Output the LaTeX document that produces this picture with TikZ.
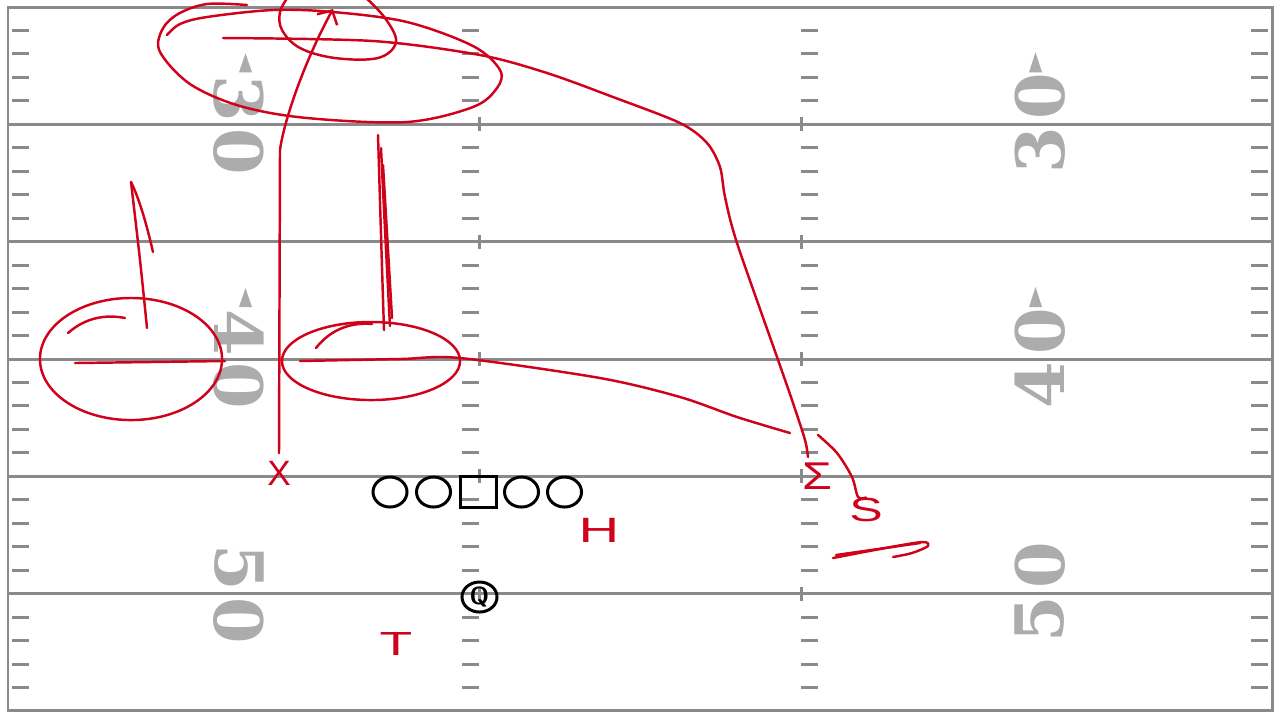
\documentclass[tikz,border=0pt]{standalone}
\usepackage{fontspec}
\usetikzlibrary{arrows.meta}
\usetikzlibrary{shapes.geometric}
\newfontfamily\numfont{DejaVu Serif}
\newfontfamily\handfont{Liberation Sans}
\definecolor{fieldgray}{RGB}{138,138,138}
\definecolor{numgray}{RGB}{172,172,172}
\definecolor{ink}{RGB}{208,2,27}

\begin{document}
\begin{tikzpicture}[x=0.01cm,y=-0.01cm,
    yardline/.style={draw=fieldgray,line width=0.85pt},
    hashtick/.style={draw=fieldgray,line width=0.85pt},
    yardnum/.style={text=numgray,inner sep=0pt,font=\numfont\bfseries\fontsize{19}{19}\selectfont},
    lineman/.style={draw=black,line width=0.85pt,ellipse,inner sep=0pt,minimum width=0.34cm,minimum height=0.30cm},
    center/.style={draw=black,line width=0.85pt,rectangle,inner sep=0pt,minimum width=0.36cm,minimum height=0.31cm},
    qback/.style={lineman,minimum width=0.35cm,font=\sffamily\bfseries\fontsize{7}{7}\selectfont},
    route/.style={draw=ink,line width=0.7pt,line cap=round,line join=round},
    hand/.style={text=ink,inner sep=0pt}]
    \fill[white] (0,0) rectangle (1280,720);
    \useasboundingbox (0,0) rectangle (1280,720);
    % field
    \draw[yardline] (8,7) rectangle (1272,710);
    \foreach \yl in {124.3,241.7,359,476.3,593.7}{
      \draw[yardline] (8,\yl) -- (1272,\yl);
      \draw[hashtick] (479,\yl-7) -- (479,\yl+7) (801,\yl-7) -- (801,\yl+7);
    }
    \foreach \k in {0,...,5}{
      \foreach \j in {1,...,4}{
        \pgfmathsetmacro{\ty}{7+117.33*\k+23.47*\j}
        \draw[hashtick] (12,\ty) -- (29,\ty) (462,\ty) -- (479,\ty)
          (801,\ty) -- (818,\ty) (1251,\ty) -- (1268,\ty);
      }
    }
    \foreach \yl/\tens in {124.3/3,359/4,593.7/5}{
      \node[yardnum,rotate=-90] (left\tens a) at (239,\yl-26) {\tens};
      \node[yardnum,rotate=-90] (left\tens b) at (239,\yl+27) {0};
      \node[yardnum,rotate=90] (right\tens a) at (1040,\yl-28) {0};
      \node[yardnum,rotate=90] (right\tens b) at (1040,\yl+26) {\tens};
    }
    \foreach \yl in {124.3,359}{
      \fill[numgray] (245.5,\yl-71) -- (252,\yl-52) -- (239,\yl-52) -- cycle;
      \fill[numgray] (1035.5,\yl-72) -- (1042,\yl-52) -- (1029,\yl-52) -- cycle;
    }
    % offense
    \node[lineman] (LT) at (390,492) {};
    \node[lineman] (LG) at (433.5,492) {};
    \node[center] (C) at (478.5,491.5) {};
    \node[lineman] (RG) at (521.5,492) {};
    \node[lineman] (RT) at (564.5,492) {};
    \node[qback] (Q) at (479.5,597) {Q};
    % handwriting
    \node[hand,font=\handfont\fontsize{10}{10}\selectfont] (X) at (279,473) {X};
    \node[hand,font=\handfont\fontsize{10}{10}\selectfont] (H) at (599,530) {\scalebox{1.6}[1]{H}};
    \node[hand,font=\handfont\fontsize{9.5}{10}\selectfont] (T) at (396,644) {\scalebox{1.6}[1]{T}};
    \node[hand,font=\handfont\fontsize{11}{11}\selectfont] (M) at (817,476) {\scalebox{1.25}[1]{Σ}};
    \node[hand,font=\handfont\fontsize{9.5}{10}\selectfont] (S) at (866,510) {\scalebox{1.5}[1]{S}};
    \coordinate (blitz) at (818,435);
    \coordinate (deep) at (333,9);
    \begin{scope}
      \clip (0,0) rectangle (1280,720);
      \draw[route] plot[smooth,tension=0.55] coordinates {(167,35) (180,24) (207,17) (273,10)
        (333,12) (407,22) (473,46) (500,70) (497,88) (473,107) (407,122) (307,118) (240,106)
        (190,84) (160,52) (162,30) (178,14) (207,4) (247,5)};
      \draw[route] plot[smooth,tension=0.6] coordinates {(365,-3) (385,18) (396,42) (378,58)
        (335,58) (300,48) (282,30) (280,12) (288,-3)};
      \draw[route,-{Straight Barb[length=3pt,width=6.5pt]}] ([yshift=2pt]X.north) -- (280,150)
        .. controls (284,120) and (305,60) .. (deep);
      \draw[route] plot[smooth,tension=0.5] coordinates {(808,457) (805,440) (793,403) (777,357)
        (737,243) (725,197) (720,167) (707,143) (680,123) (613,97) (547,73) (480,55) (373,41) (223,38)};
      % zones
      \draw[route] (131,359) ellipse [x radius=0.91cm,y radius=0.61cm];
      \draw[route] (75,363) -- (225,361);
      \draw[route] (68,333) .. controls (85,318) and (105,314) .. (125,318);
      \draw[route] plot[smooth,tension=0.5] coordinates {(147,328) (140,260) (131,182)};
      \draw[route] (131,182) .. controls (140,200) and (148,230) .. (153,252);
      \draw[route] (371,361) ellipse [x radius=0.89cm,y radius=0.39cm];
      \draw[route] (316,348) .. controls (330,330) and (350,322) .. (372,324);
      \draw[route] (378,135) .. controls (380,200) and (382,270) .. (384,330);
      \draw[route] (381,148) .. controls (384,210) and (387,270) .. (390,326);
      \draw[route] (383,165) -- (392,318);
      \draw[route] plot[smooth,tension=0.5] coordinates {(300,361) (400,359) (460,358) (600,378)
        (680,397) (737,417) (790,433)};
      % blitz
      \draw[route] plot[smooth,tension=0.5] coordinates {(blitz) (837,453) (852,477) (858,497) (S.north)};
      \draw[route] plot[smooth,tension=0.5] coordinates {(833,558) (880,549) (922,542) (928,546)
        (912,553) (893,557)};
      \draw[route] (836,555) -- (920,543);
    \end{scope}
\end{tikzpicture}
\end{document}
